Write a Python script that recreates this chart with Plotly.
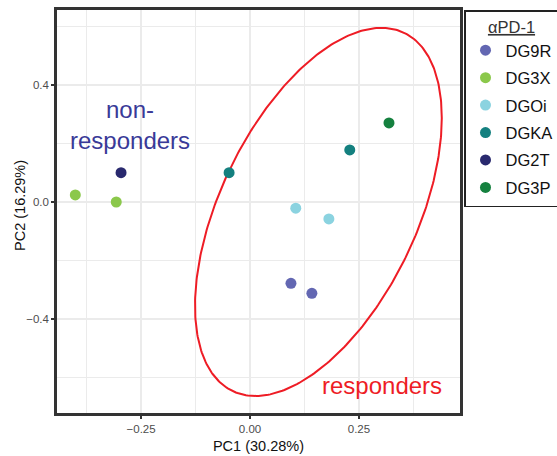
import numpy as np
import plotly.graph_objects as go

# ---- data ----
groups = ["DG9R", "DG3X", "DGOi", "DGKA", "DG2T", "DG3P"]
colors = ["#6367B2", "#8BC84B", "#8BD3E0", "#14807F", "#29296E", "#15813F"]
pc1 = {
    "DG9R": [0.094, 0.142],
    "DG3X": [-0.401, -0.307],
    "DGOi": [0.105, 0.181],
    "DGKA": [-0.048, 0.229],
    "DG2T": [-0.296],
    "DG3P": [0.319],
}
pc2 = {
    "DG9R": [-0.278, -0.312],
    "DG3X": [0.024, 0.000],
    "DGOi": [-0.021, -0.058],
    "DGKA": [0.100, 0.178],
    "DG2T": [0.100],
    "DG3P": [0.270],
}
# responder ellipse parameters (center, sd along axes, correlation)
ell_center = [0.157, -0.034]
ell_sd = [0.2832, 0.629]
ell_rho = 0.5105

x_ticks = [-0.25, 0.0, 0.25]
y_ticks = [-0.4, 0.0, 0.4]

FONT = "Liberation Sans, Arial, Helvetica, sans-serif"

fig = go.Figure()

t = np.linspace(0, 2 * np.pi, 361)
d = np.arccos(ell_rho)
ex = ell_center[0] + ell_sd[0] * np.cos(t)
ey = ell_center[1] + ell_sd[1] * np.cos(t + d)
fig.add_trace(go.Scatter(x=ex, y=ey, mode="lines", line=dict(color="#EE1C25", width=2),
                         showlegend=False, hoverinfo="skip"))

for g, c in zip(groups, colors):
    fig.add_trace(go.Scatter(x=pc1[g], y=pc2[g], mode="markers", name=g, legendgroup=g,
                             marker=dict(color=c, size=11)))

fig.add_annotation(x=-0.275, y=0.263, text="non-<br>responders", showarrow=False,
                   font=dict(family=FONT, size=24, color="#393A98"), xref="x", yref="y")
fig.add_annotation(x=0.303, y=-0.626, text="responders", showarrow=False,
                   font=dict(family=FONT, size=24, color="#EE1C25"), xref="x", yref="y")
# y-axis title placed as rotated text
fig.add_annotation(x=-0.092, y=0.516, xref="paper", yref="paper", text="PC2 (16.29%)",
                   textangle=-90, showarrow=False, xanchor="center", yanchor="middle",
                   font=dict(family=FONT, size=14.5, color="#111111"))

axis_common = dict(
    showline=True, linecolor="#333333", linewidth=2.5, mirror=True,
    showgrid=True, gridcolor="#EBEBEB", gridwidth=2,
    ticks="outside", ticklen=3, tickwidth=1.5, tickcolor="#333333",
    tickfont=dict(family=FONT, size=11.5, color="#4D4D4D"),
    zeroline=False, automargin=False,
)

fig.update_xaxes(
    range=[-0.443, 0.482], tickvals=x_ticks, tickformat=".2f",
    minor=dict(dtick=0.125, tick0=0, showgrid=True, gridcolor="#EBEBEB", gridwidth=1.2, ticks=""),
    title=dict(text="PC1 (30.28%)", font=dict(family=FONT, size=14.5, color="#111111"), standoff=8),
    **axis_common,
)
fig.update_yaxes(
    range=[-0.721, 0.656], tickvals=y_ticks, tickformat=".1f",
    minor=dict(dtick=0.2, tick0=0, showgrid=True, gridcolor="#EBEBEB", gridwidth=1.2, ticks=""),
    **axis_common,
)

fig.update_layout(
    width=557, height=456,
    margin=dict(l=57, r=97, t=10, b=43),
    plot_bgcolor="white", paper_bgcolor="white",
    font=dict(family=FONT),
    legend=dict(
        xref="container", yref="container",
        x=464 / 557, xanchor="left", y=1 - 10 / 456, yanchor="top",
        bordercolor="#222222", borderwidth=1.5,
        font=dict(family=FONT, size=16.5, color="#111111"),
        title=dict(text="<u>αPD-1</u>", side="top center", font=dict(family=FONT, size=16.5, color="#333333")),
        traceorder="grouped",
        tracegroupgap=3,
        itemwidth=30,
    ),
)

fig.write_html("out.html", config={"displayModeBar": False},
               post_script="document.body.style.margin='0';document.body.style.overflow='hidden';")
